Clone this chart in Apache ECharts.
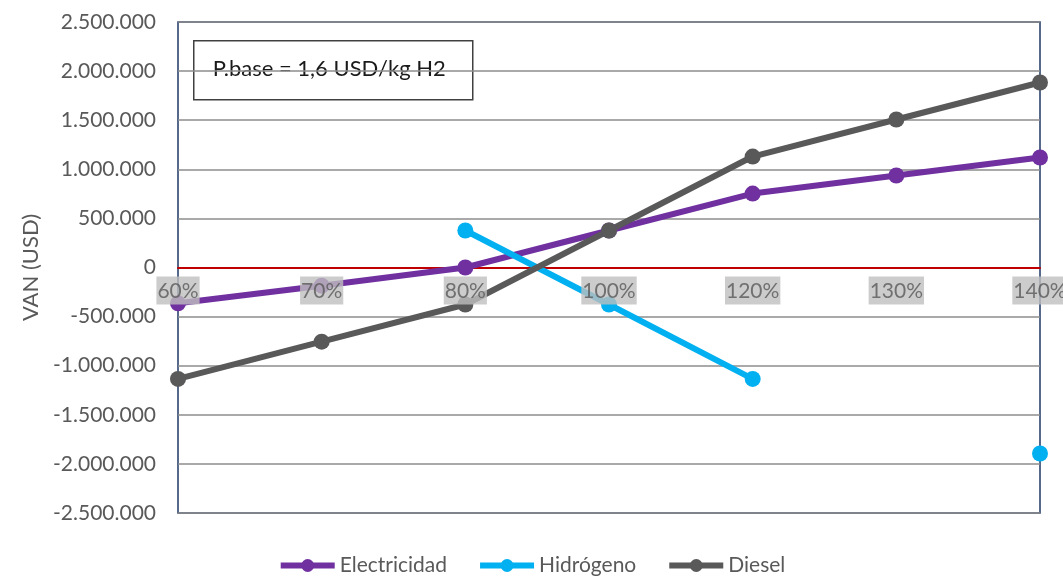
<!DOCTYPE html>
<html>
<head>
<meta charset="utf-8">
<script src="https://cdn.jsdelivr.net/npm/echarts@6/dist/echarts.min.js"></script>
<style>
  html, body { margin: 0; padding: 0; background: #fff; }
  #main { width: 1063px; height: 576px; }
</style>
</head>
<body>
<div id="main"></div>
<script>
// data
let categories = ['60%', '70%', '80%', '100%', '120%', '130%', '140%'];
let electricidad = [-365000, -185000, 0, 377000, 753000, 937000, 1120000];
let hidrogeno = [null, null, 377000, -377000, -1135000, null, -1894000];
let diesel = [-1135000, -755000, -377000, 377000, 1130000, 1507000, 1884000];
let yTicks = { min: -2500000, max: 2500000, step: 500000 };

function fmt(v) {
    let s = Math.abs(v).toString().replace(/\B(?=(\d{3})+(?!\d))/g, '.');
    return (v < 0 ? '-' : '') + s;
}

let myChart = echarts.init(document.getElementById('main'));
let font = 'Lato, "Open Sans", sans-serif';

function lineSeries(name, data, color) {
    return {
        name: name,
        type: 'line',
        data: data,
        symbol: 'circle',
        symbolSize: 16,
        connectNulls: false,
        lineStyle: { width: 6, color: color },
        itemStyle: { color: color },
        z: 3
    };
}

// category labels sit on the zero line, like the excel "next to axis" labels
let zeroLabels = categories.map(function (c) { return [c, 0]; });

let option = {
    animation: false,
    textStyle: { fontFamily: font },
    grid: {
        left: 178, right: 23, top: 22, bottom: 63,
        show: true, borderColor: '#1f3864', borderWidth: 1.5,
        containLabel: false
    },
    legend: {
        bottom: -5,
        left: 'center',
        itemWidth: 54,
        itemHeight: 16,
        itemGap: 30,
        lineStyle: { width: 6 },
        textStyle: { fontSize: 21, color: '#595959', fontFamily: font },
        data: ['Electricidad', 'Hidrógeno', 'Diesel']
    },
    xAxis: {
        type: 'category',
        data: categories,
        boundaryGap: false,
        axisLine: { onZero: true, lineStyle: { color: '#c00000', width: 2 } },
        axisTick: { show: false },
        splitLine: { show: false },
        axisLabel: { show: false },
        z: 1
    },
    yAxis: {
        type: 'value',
        min: yTicks.min,
        max: yTicks.max,
        interval: yTicks.step,
        name: 'VAN (USD)',
        nameLocation: 'middle',
        nameGap: 125,
        nameTextStyle: { fontSize: 22, color: '#595959', fontFamily: font },
        axisLine: { show: false },
        axisTick: { show: false },
        axisLabel: {
            formatter: fmt,
            color: '#595959',
            fontSize: 21,
            fontFamily: font,
            margin: 22
        },
        splitLine: { lineStyle: { color: '#8c8c8c', width: 1.5 } }
    },
    graphic: [{
        type: 'group',
        left: 193,
        top: 40,
        children: [{
            type: 'rect',
            shape: { x: 0, y: 0, width: 279, height: 59 },
            style: { fill: '#ffffff', stroke: '#404040', lineWidth: 1.5 }
        }, {
            type: 'text',
            x: 19,
            y: 17,
            style: {
                text: 'P.base = 1,6 USD/kg H2',
                fontSize: 22,
                fontFamily: font,
                fill: '#1a1a1a'
            }
        }]
    }],
    series: [
        lineSeries('Electricidad', electricidad, '#7030a0'),
        lineSeries('Hidrógeno', hidrogeno, '#00b0f0'),
        lineSeries('Diesel', diesel, '#595959'),
        {
            name: 'labels',
            type: 'scatter',
            data: zeroLabels,
            symbolSize: 0,
            silent: true,
            z: 10,
            label: {
                show: true,
                position: 'bottom',
                distance: 9,
                formatter: function (p) { return p.value[0]; },
                color: '#595959',
                fontSize: 21,
                fontFamily: font,
                backgroundColor: '#bfbfbf',
                padding: [4, 1, 3, 1]
            }
        }
    ]
};
myChart.setOption(option);
</script>
</body>
</html>
